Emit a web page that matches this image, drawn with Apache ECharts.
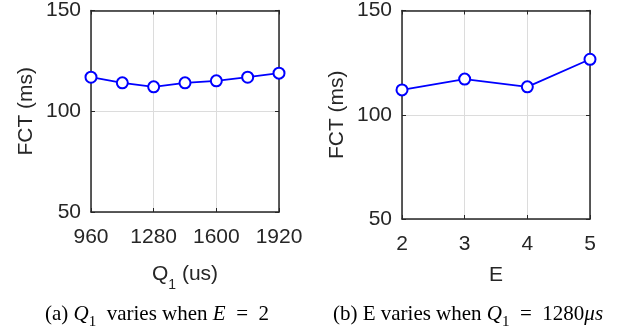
<!DOCTYPE html>
<html>
<head>
<meta charset="utf-8">
<script src="https://cdn.jsdelivr.net/npm/echarts@6/dist/echarts.min.js"></script>
<style>
  html, body { margin: 0; padding: 0; background: #fff; }
  #main { width: 627px; height: 328px; }
</style>
</head>
<body>
<div id="main"></div>
<script>
// left panel: Q1 sweep, E = 2
const q1Values = [960, 1120, 1280, 1440, 1600, 1760, 1920];
const fctByQ1 = [116.9, 114.1, 112.1, 114.1, 115.1, 116.9, 118.9];
// right panel: E sweep, Q1 = 1280us
const eValues = [2, 3, 4, 5];
const fctByE = [111.9, 117.1, 113.4, 126.6];
const yTicks = { min: 50, max: 150, step: 50 };

const txt = '#262626';
const sans = 'Liberation Sans';
const serif = 'Liberation Serif';

function pairs(xs, ys) {
  return xs.map((x, i) => [x, ys[i]]);
}

const subRich = {
  n: { fontFamily: sans, fontSize: 21, color: txt },
  s: { fontFamily: sans, fontSize: 14, color: txt, verticalAlign: 'bottom', lineHeight: 36 }
};

function xAxes(gridIndex, min, max, step, name, gap) {
  return [
    {
      type: 'value', gridIndex: gridIndex, position: 'bottom',
      min: min, max: max, interval: step,
      name: name, nameLocation: 'middle', nameGap: gap,
      nameTextStyle: { rich: subRich, fontFamily: sans, fontSize: 21, color: txt },
      axisLine: { show: true, lineStyle: { color: txt, width: 1.5 } },
      axisTick: { show: true, inside: true, length: 4, lineStyle: { color: txt } },
      axisLabel: { fontFamily: sans, fontSize: 21, color: txt, margin: 15, formatter: v => String(v) },
      splitLine: { show: true, lineStyle: { color: '#dcdcdc', width: 1 } }
    },
    {
      type: 'value', gridIndex: gridIndex, position: 'top',
      min: min, max: max, interval: step,
      axisLine: { show: true, lineStyle: { color: txt, width: 1.5 } },
      axisTick: { show: true, inside: true, length: 4, lineStyle: { color: txt } },
      axisLabel: { show: false },
      splitLine: { show: false }
    }
  ];
}

function yAxes(gridIndex) {
  return [
    {
      type: 'value', gridIndex: gridIndex, position: 'left',
      min: yTicks.min, max: yTicks.max, interval: yTicks.step,
      name: 'FCT (ms)', nameLocation: 'middle', nameGap: 54, nameRotate: 90,
      nameTextStyle: { fontFamily: sans, fontSize: 21, color: txt },
      axisLine: { show: true, lineStyle: { color: txt, width: 1.5 } },
      axisTick: { show: true, inside: true, length: 4, lineStyle: { color: txt } },
      axisLabel: { fontFamily: sans, fontSize: 21, color: txt, margin: 10 },
      splitLine: { show: true, lineStyle: { color: '#dcdcdc', width: 1 } }
    },
    {
      type: 'value', gridIndex: gridIndex, position: 'right',
      min: yTicks.min, max: yTicks.max, interval: yTicks.step,
      axisLine: { show: true, lineStyle: { color: txt, width: 1.5 } },
      axisTick: { show: true, inside: true, length: 4, lineStyle: { color: txt } },
      axisLabel: { show: false },
      splitLine: { show: false }
    }
  ];
}

function lineSeries(xIdx, yIdx, data) {
  return {
    type: 'line', xAxisIndex: xIdx, yAxisIndex: yIdx, data: data,
    symbol: 'circle', symbolSize: 11,
    lineStyle: { color: '#0000ff', width: 1.8 },
    itemStyle: { color: '#fff', borderColor: '#0000ff', borderWidth: 2 },
    animation: false
  };
}

const capRich = {
  r: { fontFamily: serif, fontSize: 21, color: '#000' },
  i: { fontFamily: serif, fontSize: 21, fontStyle: 'italic', color: '#000' },
  s: { fontFamily: serif, fontSize: 15, color: '#000', verticalAlign: 'bottom', lineHeight: 32 }
};

const chart = echarts.init(document.getElementById('main'));
chart.setOption({
  animation: false,
  grid: [
    { left: 91, top: 9, width: 188, height: 203 },
    { left: 402, top: 9, width: 188, height: 210 }
  ],
  xAxis: xAxes(0, 960, 1920, 320, '{n|Q}{s|1}{n| (us)}', 44)
    .concat(xAxes(1, 2, 5, 1, 'E', 46)),
  yAxis: yAxes(0).concat(yAxes(1)),
  series: [
    lineSeries(0, 0, pairs(q1Values, fctByQ1)),
    lineSeries(2, 2, pairs(eValues, fctByE))
  ],
  graphic: [
    {
      type: 'text', x: 157, y: 314,
      style: {
        text: '{r|(a) }{i|Q}{s|1}{r|  varies when }{i|E}{r|  =  2}',
        rich: capRich, align: 'center', verticalAlign: 'middle'
      }
    },
    {
      type: 'text', x: 468, y: 314,
      style: {
        text: '{r|(b) E varies when }{i|Q}{s|1}{r|  =  1280}{i|μs}',
        rich: capRich, align: 'center', verticalAlign: 'middle'
      }
    }
  ]
});
</script>
</body>
</html>
